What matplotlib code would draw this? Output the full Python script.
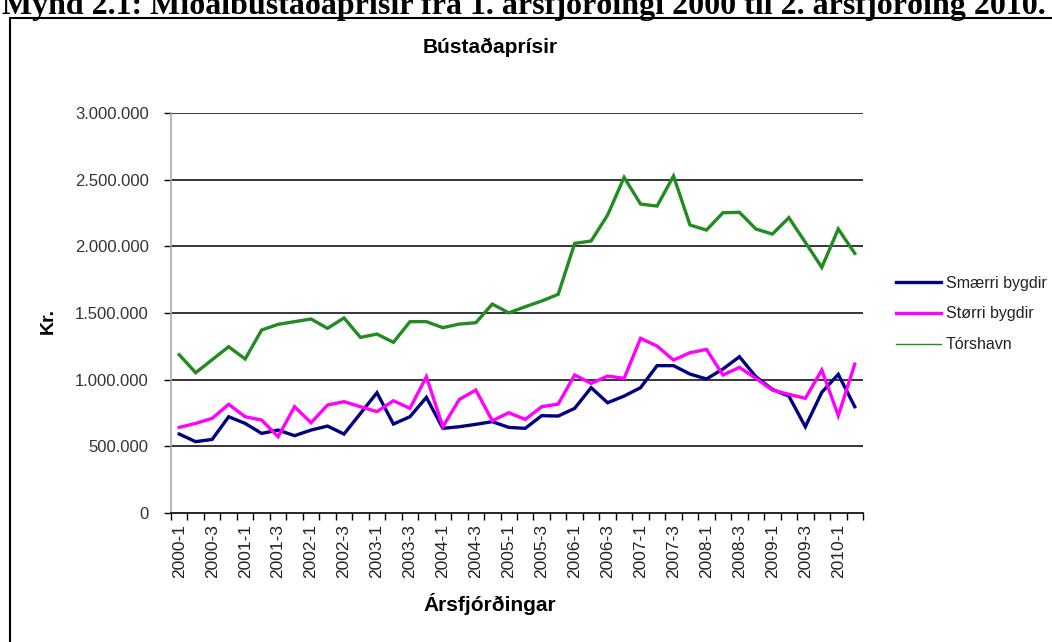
import matplotlib
matplotlib.use("Agg")
import matplotlib.pyplot as plt
from matplotlib.patches import Rectangle
import numpy as np

plt.rcParams['font.family'] = ['Liberation Sans', 'DejaVu Sans']

quarters = [f"{y}-{q}" for y in range(2000, 2011) for q in range(1, 5)][:42]

smaerri = [592000, 535000, 552000, 722000, 672000, 597000, 622000, 580000, 622000, 652000,
           592000, 747000, 902000, 667000, 722000, 867000, 635000, 647000, 665000, 685000,
           642000, 635000, 730000, 727000, 785000, 940000, 827000, 877000, 940000, 1105000,
           1105000, 1042000, 1005000, 1080000, 1172000, 1022000, 927000, 877000, 647000, 905000,
           1040000, 797000]
storri = [642000, 672000, 710000, 815000, 722000, 697000, 572000, 797000, 677000, 810000,
          835000, 797000, 760000, 842000, 785000, 1022000, 647000, 852000, 922000, 692000,
          752000, 702000, 797000, 817000, 1035000, 972000, 1027000, 1010000, 1310000, 1252000,
          1147000, 1202000, 1227000, 1035000, 1092000, 1010000, 922000, 890000, 860000, 1072000,
          730000, 1117000]
torshavn = [1187000, 1052000, 1150000, 1247000, 1155000, 1372000, 1415000, 1435000, 1455000, 1385000,
            1463000, 1317000, 1342000, 1280000, 1435000, 1435000, 1390000, 1417000, 1427000, 1567000,
            1501000, 1547000, 1590000, 1640000, 2022000, 2040000, 2235000, 2517000, 2317000, 2302000,
            2527000, 2160000, 2122000, 2252000, 2255000, 2130000, 2092000, 2215000, 2030000, 1842000,
            2130000, 1947000]

series_names = ["Smærri bygdir", "Størri bygdir", "Tórshavn"]
colors = ["#000080", "#ff00ff", "#228b22"]
yticks = [0, 500000, 1000000, 1500000, 2000000, 2500000, 3000000]
ytick_labels = ["0", "500.000", "1.000.000", "1.500.000", "2.000.000", "2.500.000", "3.000.000"]

W, H = 1052, 642
fig = plt.figure(figsize=(W / 100, H / 100), dpi=100)
ax = fig.add_axes([171 / W, 1 - 513 / H, (863 - 171) / W, 400 / H])

x = np.arange(len(quarters))
for vals, name, c in zip([smaerri, storri, torshavn], series_names, colors):
    ax.plot(x, vals, color=c, lw=2.4, label=name, solid_joinstyle='miter')

ax.set_xlim(-0.5, len(quarters) - 0.5)
ax.set_ylim(0, 3000000)
ax.set_yticks(yticks)
ax.set_yticklabels(ytick_labels, fontsize=12, color="#333333")
for yv in yticks[1:]:
    ax.axhline(yv, color="black", lw=1.1, zorder=0)

ax.set_xticks(x[::2])
ax.set_xticklabels(quarters[::2], rotation=90, fontsize=12.5, color="#222222")
ax.set_xticks(np.arange(-0.5, len(quarters)), minor=True)
ax.tick_params(axis='x', which='major', length=0, pad=8)
ax.tick_params(axis='x', which='minor', length=5, width=1, color="black", direction='out')
ax.tick_params(axis='y', length=5, width=1, color="black", direction='out', pad=11)

for s in ['top', 'right']:
    ax.spines[s].set_visible(False)
ax.spines['left'].set_color("#aaaaaa")
ax.spines['left'].set_linewidth(1.2)
ax.spines['bottom'].set_color("black")
ax.spines['bottom'].set_linewidth(1.2)

ax.set_xlabel("Ársfjórðingar", fontsize=15, fontweight='bold')
ax.set_ylabel("Kr.", fontsize=14, fontweight='bold')
ax.yaxis.set_label_coords((57 - 171) / (863 - 171), 0.48)
ax.xaxis.set_label_coords((490 - 171) / (863 - 171), -(593 - 513) / 400)

fig.text(490 / W, 1 - 47 / H, "Bústaðaprísir", fontsize=15, fontweight='bold',
         ha='center', va='center')

leg = ax.legend(loc='center left', bbox_to_anchor=(882 / W, 1 - 314 / H),
                bbox_transform=fig.transFigure, frameon=False, fontsize=11.5,
                handlelength=2.8, handletextpad=0.3, labelspacing=1.0, borderpad=0.4)
for t in leg.get_texts():
    t.set_color("#222222")
leg.get_lines()[2].set_linewidth(1.0)

fig.text(2 / W, 1 - 14 / H,
         "Mynd 2.1: Miðalbústaðaprísir frá 1. ársfjórðingi 2000 til 2. ársfjórðing 2010.",
         fontsize=23, fontweight='bold', family='Liberation Serif', ha='left', va='baseline')

fig.patches.append(Rectangle((10 / W, -0.2), 1.5, 1.2 - 18 / H, transform=fig.transFigure,
                             fill=False, edgecolor='black', lw=1.5, clip_on=False))

fig.savefig("out.png", dpi=100)
